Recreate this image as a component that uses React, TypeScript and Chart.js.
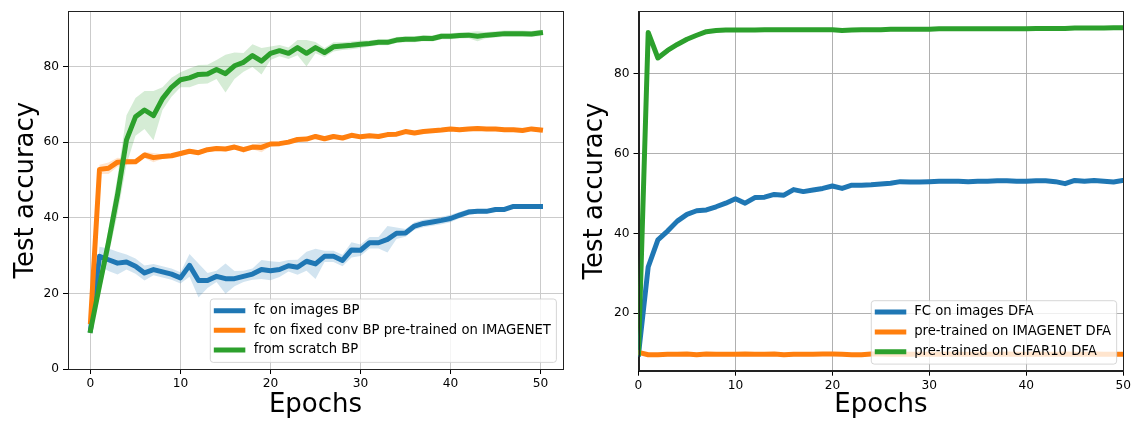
import React, { useEffect, useRef } from 'react';
import { Chart, registerables } from 'chart.js';
Chart.register(...registerables);

const EPOCHS = [0,1,2,3,4,5,6,7,8,9,10,11,12,13,14,15,16,17,18,19,20,21,22,23,24,25,26,27,28,29,30,31,32,33,34,35,36,37,38,39,40,41,42,43,44,45,46,47,48,49,50];
const X_TICKS = [0, 10, 20, 30, 40, 50];
const LEFT_Y_TICKS = [0, 20, 40, 60, 80];
const RIGHT_Y_TICKS = [20, 40, 60, 80];

const BP_FC_IMAGES = [10.3,29.8,28.9,28.0,28.3,27.2,25.4,26.3,25.7,25.1,24.1,27.4,23.4,23.4,24.5,23.9,23.9,24.5,25.1,26.3,26.0,26.3,27.3,26.9,28.5,27.8,29.8,29.8,28.7,31.5,31.4,33.4,33.4,34.3,35.9,36.0,37.8,38.5,38.9,39.3,39.8,40.7,41.5,41.7,41.7,42.2,42.2,43.0,43.0,43.0,43.0];
const BP_FC_IMAGES_STD = [0.5,2.5,3,3,2,2,2,1.5,1.5,1.5,1.5,3,4.5,2,1.5,4,2,1.5,1.5,2.5,2.5,2,1.5,2,2.5,4,1.5,1.5,1.5,2,1.5,1.5,1.5,3.5,1.5,1,1,1,1,1,1,0.8,0.8,0.6,0.6,0.5,0.5,0.5,0.5,0.5,0.5];
const BP_IMAGENET = [12.5,52.8,53.1,54.7,54.8,54.8,56.6,55.9,56.2,56.4,57.0,57.6,57.2,58.0,58.3,58.2,58.7,58.0,58.7,58.6,59.5,59.6,60.0,60.7,60.8,61.5,60.9,61.5,61.1,61.8,61.4,61.7,61.5,62.0,62.1,62.8,62.4,62.8,63.0,63.2,63.5,63.3,63.5,63.6,63.5,63.5,63.3,63.3,63.1,63.5,63.2];
const BP_IMAGENET_STD = [0.5,1.2,1.5,1.2,0.8,0.6,0.8,1.2,0.6,0.5,0.6,0.6,0.6,0.6,0.6,0.6,0.6,0.8,0.6,1.3,0.6,0.5,0.6,0.5,0.5,0.5,0.5,0.5,0.5,0.5,0.5,0.5,0.5,0.5,0.5,0.5,0.5,0.5,0.5,0.5,0.5,0.5,0.5,0.5,0.5,0.5,0.5,0.5,0.5,0.5,0.7];
const BP_SCRATCH = [10.2,22.0,33.5,46.0,60.6,66.7,68.5,67.0,71.5,74.5,76.5,77.0,77.9,78.0,79.2,78.1,80.2,81.1,82.9,81.4,83.5,84.2,83.5,85.0,83.5,85.0,83.7,85.2,85.4,85.6,85.9,86.1,86.4,86.4,87.0,87.2,87.2,87.5,87.4,88.0,88.0,88.2,88.3,88.0,88.3,88.5,88.7,88.7,88.7,88.6,88.9];
const BP_SCRATCH_STD = [0.5,2.5,3.5,5,6.5,5,5,6.5,3,2.5,2,2.5,2.5,2.5,2.5,5,3.5,2.5,3,3.5,1.8,1.5,1.5,2,3.5,1.5,1.2,1.2,1,1,1,0.8,0.8,0.8,0.8,0.8,0.8,0.8,0.8,0.8,0.8,0.8,0.8,1.3,0.8,0.8,0.8,0.8,0.8,0.8,0.8];

const DFA_FC_IMAGES = [9.7,31.6,38.4,40.6,43.1,44.8,45.7,45.9,46.7,47.6,48.7,47.6,49.0,49.1,49.8,49.6,51.0,50.5,50.9,51.3,51.9,51.3,52.1,52.1,52.2,52.4,52.6,53.0,52.9,52.9,53.0,53.1,53.1,53.1,53.0,53.1,53.1,53.2,53.2,53.1,53.1,53.2,53.2,53.0,52.5,53.3,53.1,53.3,53.1,52.9,53.3];
const DFA_IMAGENET = [10.2,9.6,9.6,9.7,9.7,9.8,9.6,9.8,9.7,9.7,9.7,9.8,9.7,9.7,9.8,9.6,9.7,9.7,9.7,9.8,9.8,9.7,9.6,9.6,9.8,9.8,9.7,9.8,9.7,9.7,9.8,9.7,9.8,9.7,9.7,9.8,9.7,9.7,9.8,9.7,9.7,9.8,9.7,9.7,9.8,9.7,9.7,9.8,9.7,9.7,9.7];
const DFA_CIFAR10 = [10.0,90.4,84.0,85.9,87.4,88.7,89.7,90.6,90.9,91.0,91.0,91.0,91.0,91.1,91.1,91.1,91.1,91.1,91.1,91.1,91.1,90.9,91.0,91.1,91.1,91.1,91.2,91.2,91.2,91.2,91.2,91.3,91.3,91.3,91.3,91.3,91.3,91.3,91.3,91.3,91.3,91.4,91.4,91.4,91.4,91.5,91.5,91.5,91.5,91.6,91.6];

const LEFT_LABELS = ['fc on images BP', 'fc on fixed conv BP pre-trained on IMAGENET', 'from scratch BP'];
const RIGHT_LABELS = ['FC on images DFA', 'pre-trained on IMAGENET DFA', 'pre-trained on CIFAR10 DFA'];
const COLORS = ['#1f77b4', '#ff7f0e', '#2ca02c'];
const BAND_COLORS = ['rgba(31,119,180,0.2)', 'rgba(255,127,14,0.2)', 'rgba(44,160,44,0.2)'];

const FONT = '"DejaVu Sans", sans-serif';

function pts(vals: number[]) {
  return vals.map((v, i) => ({ x: EPOCHS[i], y: v }));
}
function band(vals: number[], std: number[], sign: number) {
  return vals.map((v, i) => ({ x: EPOCHS[i], y: v + sign * std[i] }));
}

function lineDs(label: string, vals: number[], color: string, order: number) {
  return {
    label,
    data: pts(vals),
    borderColor: color,
    backgroundColor: color,
    borderWidth: 5,
    pointRadius: 0,
    tension: 0,
    fill: false,
    borderJoinStyle: 'round',
    borderCapStyle: 'square',
    order,
  };
}
function bandDs(vals: number[], std: number[], fillColor: string) {
  return [
    { label: '_lo', data: band(vals, std, -1), borderColor: 'rgba(0,0,0,0)', borderWidth: 0, pointRadius: 0, fill: false, tension: 0, order: 10 },
    { label: '_hi', data: band(vals, std, 1), borderColor: 'rgba(0,0,0,0)', borderWidth: 0, pointRadius: 0, fill: '-1', backgroundColor: fillColor, tension: 0, order: 10 },
  ];
}

function makePlugin(labels: string[], lg: any) {
  return {
    id: 'customLegendSpines',
    afterDraw(chart: any) {
      const ctx = chart.ctx;
      const a = chart.chartArea;
      ctx.save();
      ctx.font = `13.2px ${FONT}`;
      let maxW = 0;
      labels.forEach((t) => { maxW = Math.max(maxW, ctx.measureText(t).width); });
      const w = lg.textX + maxW + 5.5;
      const h = 63.4;
      const right = a.right - 6.6;
      const bottom = a.bottom - 6.6;
      const left = right - w;
      const top = bottom - h;
      const r = 3;
      ctx.beginPath();
      ctx.moveTo(left + r, top);
      ctx.lineTo(right - r, top);
      ctx.quadraticCurveTo(right, top, right, top + r);
      ctx.lineTo(right, bottom - r);
      ctx.quadraticCurveTo(right, bottom, right - r, bottom);
      ctx.lineTo(left + r, bottom);
      ctx.quadraticCurveTo(left, bottom, left, bottom - r);
      ctx.lineTo(left, top + r);
      ctx.quadraticCurveTo(left, top, left + r, top);
      ctx.closePath();
      ctx.fillStyle = 'rgba(255,255,255,0.8)';
      ctx.fill();
      ctx.strokeStyle = 'rgba(204,204,204,0.8)';
      ctx.lineWidth = 1;
      ctx.stroke();
      labels.forEach((t, i) => {
        const y = top + lg.firstRow + lg.rowGap * i;
        ctx.beginPath();
        ctx.strokeStyle = COLORS[i];
        ctx.lineWidth = 5;
        ctx.lineCap = 'butt';
        ctx.moveTo(left + 3.5, y);
        ctx.lineTo(left + 3.5 + 31.5, y);
        ctx.stroke();
        ctx.fillStyle = '#000';
        ctx.textBaseline = 'middle';
        ctx.textAlign = 'left';
        ctx.fillText(t, left + lg.textX, y);
      });
      ctx.strokeStyle = '#222';
      ctx.lineWidth = 1;
      ctx.strokeRect(Math.round(a.left) + 0.5, Math.round(a.top) + 0.5, Math.round(a.right) - Math.round(a.left), Math.round(a.bottom) - Math.round(a.top));
      ctx.restore();
    },
  };
}

function scales(opts: any) {
  return {
    x: {
      type: 'linear',
      min: opts.xmin,
      max: opts.xmax,
      afterBuildTicks: (s: any) => { s.ticks = X_TICKS.map((v) => ({ value: v })); },
      afterFit: (s: any) => { s.height = opts.xh; },
      grid: { color: opts.gridColor, lineWidth: 1, tickLength: 5, tickColor: '#000' },
      border: { color: '#222', width: 1 },
      ticks: { color: '#000', font: { size: 12.2, family: FONT }, padding: 3, maxRotation: 0, autoSkip: false, callback: (v: any) => String(v) },
      title: { display: true, text: 'Epochs', color: '#000', font: { size: 26, family: FONT }, padding: { top: 0, bottom: opts.xtitlePad } },
    },
    y: {
      type: 'linear',
      min: opts.ymin,
      max: opts.ymax,
      afterBuildTicks: (s: any) => { s.ticks = opts.yticks.map((v: number) => ({ value: v })); },
      afterFit: (s: any) => { s.width = opts.yw; },
      grid: { color: opts.gridColor, lineWidth: 1, tickLength: 5, tickColor: '#000' },
      border: { color: '#222', width: 1 },
      ticks: { color: '#000', font: { size: 12.2, family: FONT }, padding: 4, autoSkip: false, callback: (v: any) => String(v) },
      title: { display: true, text: 'Test accuracy', color: '#000', font: { size: 26, family: FONT }, padding: { top: opts.ytitlePad, bottom: 0 } },
    },
  };
}

function ChartCanvas({ config, left }: { config: any; left: number }) {
  const ref = useRef<HTMLCanvasElement | null>(null);
  useEffect(() => {
    if (!ref.current) return;
    const c = new Chart(ref.current, config);
    return () => c.destroy();
  }, []);
  return <canvas ref={ref} width={567} height={421} style={{ position: 'absolute', left, top: 0, width: 567, height: 421, display: 'block' }} />;
}

export default function App() {
  Chart.defaults.font.family = FONT;
  const leftConfig = {
    type: 'line',
    data: {
      datasets: [
        ...bandDs(BP_FC_IMAGES, BP_FC_IMAGES_STD, BAND_COLORS[0]),
        ...bandDs(BP_IMAGENET, BP_IMAGENET_STD, BAND_COLORS[1]),
        ...bandDs(BP_SCRATCH, BP_SCRATCH_STD, BAND_COLORS[2]),
        lineDs(LEFT_LABELS[0], BP_FC_IMAGES, COLORS[0], 3),
        lineDs(LEFT_LABELS[1], BP_IMAGENET, COLORS[1], 2),
        lineDs(LEFT_LABELS[2], BP_SCRATCH, COLORS[2], 1),
      ],
    },
    options: {
      responsive: false,
      animation: false,
      devicePixelRatio: 1,
      layout: { padding: { top: 7, right: 4, left: 0, bottom: 0 } },
      plugins: { legend: { display: false }, tooltip: { enabled: false } },
      scales: scales({ xmin: -2.5, xmax: 52.5, ymin: 0, ymax: 94.6, yticks: LEFT_Y_TICKS, xh: 52, yw: 68, xtitlePad: 0, ytitlePad: 10.4, gridColor: '#cbcbcb' }),
    },
    plugins: [makePlugin(LEFT_LABELS, { textX: 43.4, firstRow: 11.7, rowGap: 19.6 })],
  };
  const rightConfig = {
    type: 'line',
    data: {
      datasets: [
        lineDs(RIGHT_LABELS[0], DFA_FC_IMAGES, COLORS[0], 3),
        lineDs(RIGHT_LABELS[1], DFA_IMAGENET, COLORS[1], 2),
        lineDs(RIGHT_LABELS[2], DFA_CIFAR10, COLORS[2], 1),
      ],
    },
    options: {
      responsive: false,
      animation: false,
      devicePixelRatio: 1,
      layout: { padding: { top: 11.2, right: 7.8, left: 0, bottom: 0 } },
      plugins: { legend: { display: false }, tooltip: { enabled: false } },
      scales: scales({ xmin: 0, xmax: 50, ymin: 5.6, ymax: 95.7, yticks: RIGHT_Y_TICKS, xh: 50.3, yw: 71.5, xtitlePad: 0, ytitlePad: 12.4, gridColor: '#b0b0b0' }),
    },
    plugins: [makePlugin(RIGHT_LABELS, { textX: 42.9, firstRow: 11.3, rowGap: 19.9 })],
  };
  return (
    <div style={{ position: 'absolute', left: 0, top: 0, width: 1134, height: 421, background: '#fff' }}>
      <ChartCanvas config={leftConfig} left={0} />
      <ChartCanvas config={rightConfig} left={567} />
    </div>
  );
}
